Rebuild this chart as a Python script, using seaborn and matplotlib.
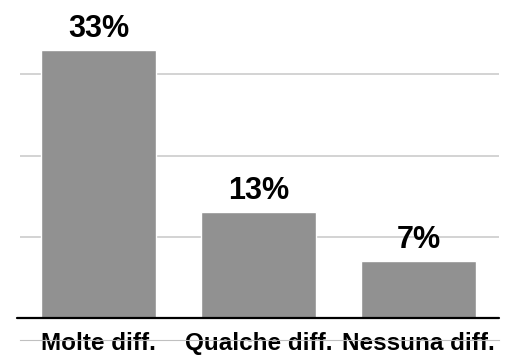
import matplotlib
matplotlib.use("Agg")
import matplotlib.pyplot as plt
import seaborn as sns
import pandas as pd

categories = ["Molte diff.", "Qualche diff.", "Nessuna diff."]
values = [33, 13, 7]
value_labels = ["33%", "13%", "7%"]
grid_levels = [10, 20, 30]

sns.set_theme(style="white")
plt.rcParams["font.family"] = ["Liberation Sans", "DejaVu Sans"]

W, H = 507, 356
fig = plt.figure(figsize=(W / 100, H / 100), dpi=100)
ax = fig.add_axes([20 / W, 16 / H, 479 / W, 340 / H])

df = pd.DataFrame({"cat": categories, "val": values})
sns.barplot(data=df, x="cat", y="val", color="#919191", saturation=1,
            width=0.72, ax=ax, zorder=3)

ax.set_xlim(-0.49, 2.503)
ax.set_ylim(-2.71, 39.16)

# light horizontal gridlines
ax.set_yticks(grid_levels)
ax.yaxis.grid(True, color="#c8c8c8", linewidth=1.1, zorder=0)
ax.set_axisbelow(True)
ax.tick_params(axis="y", left=False, labelleft=False)

# baseline at zero
ax.axhline(0, xmin=-3 / 479, xmax=1, color="black", linewidth=1.6,
           zorder=4, clip_on=False)

for side in ["top", "left", "right"]:
    ax.spines[side].set_visible(False)
ax.spines["bottom"].set_color("#c0c0c0")
ax.spines["bottom"].set_linewidth(0.8)

ax.set_xlabel("")
ax.set_ylabel("")
ax.set_xticks(range(len(categories)))
ax.set_xticklabels(categories, fontsize=17.5, fontweight="bold", color="black")
ax.tick_params(axis="x", bottom=False, length=0, pad=7.2)
for lab in ax.get_xticklabels():
    lab.set_verticalalignment("baseline")

# value labels above bars
for i, (v, txt) in enumerate(zip(values, value_labels)):
    ax.annotate(txt, (i, v), xytext=(0, 9.4), textcoords="offset points",
                ha="center", va="baseline", fontsize=22, fontweight="bold",
                color="black", zorder=5)

fig.savefig("out.png", dpi=100)
